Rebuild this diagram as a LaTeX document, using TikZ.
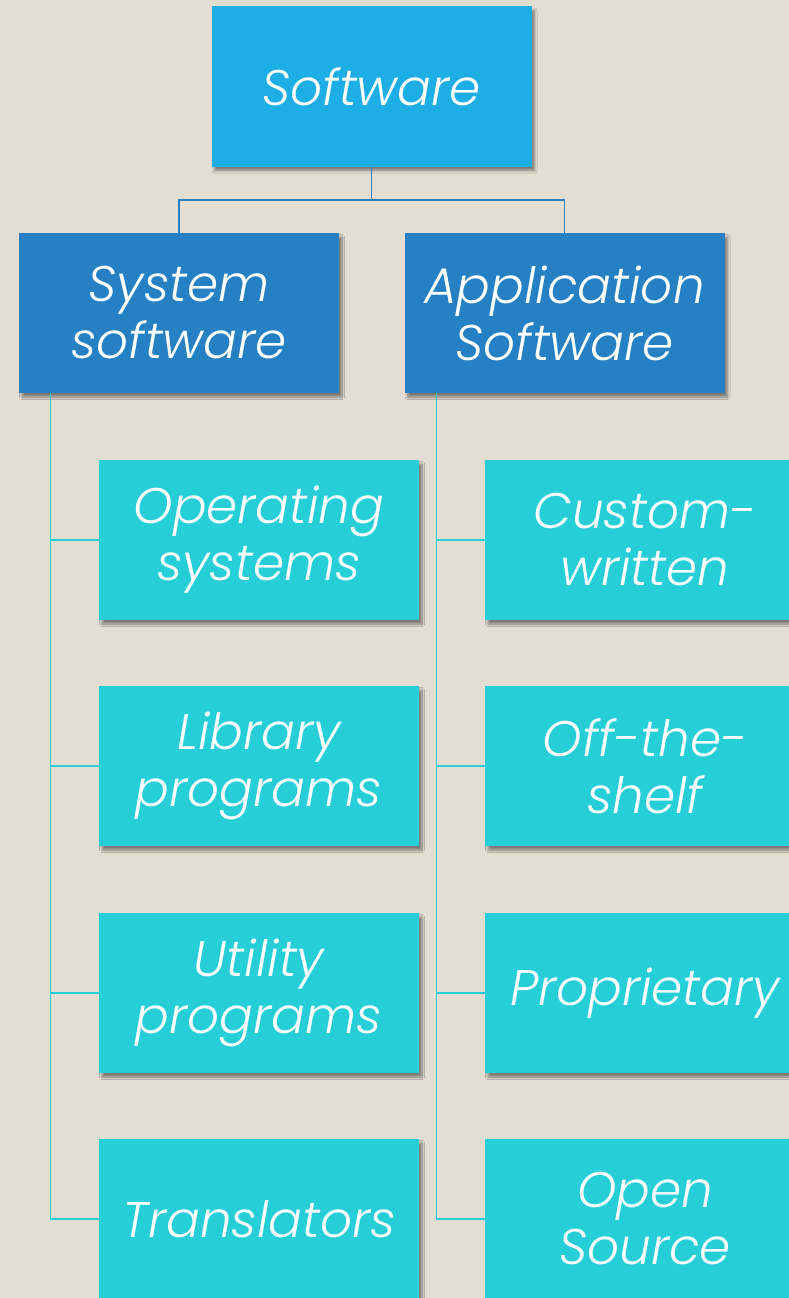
\documentclass[tikz,border=0pt]{standalone}
\usepackage{fontspec}
\setmainfont{Poppins}[UprightFont=* Light, ItalicFont=* Light Italic]
\usetikzlibrary{shadows.blur}

\definecolor{paper}{HTML}{E3DDD2}
\definecolor{topblue}{HTML}{1DAEE5}
\definecolor{midblue}{HTML}{2581C4}
\definecolor{leafcyan}{HTML}{26CFD8}

\tikzset{
  box/.style={rectangle, minimum width=320pt, minimum height=160pt,
    inner sep=0pt, text width=310pt, align=center, text=white,
    font=\fontsize{50}{57}\selectfont\itshape,
    blur shadow={shadow xshift=3pt, shadow yshift=-4pt, shadow blur steps=8,
      shadow blur radius=2.5pt, shadow opacity=45}},
  rootbox/.style={box, fill=topblue},
  groupbox/.style={box, fill=midblue},
  leafbox/.style={box, fill=leafcyan},
  branch/.style={draw=midblue, line width=1.5pt},
  leaf/.style={draw=leafcyan, line width=1.2pt}
}

\begin{document}
\begin{tikzpicture}[x=1pt, y=-1pt]
  \fill[paper] (0,0) rectangle (789,1298);
  \useasboundingbox (0,0) rectangle (789,1298);

  \node[rootbox] (sw) at (371.5,86.5) {Software};
  \node[groupbox] (sys) at (179,313) {System\\software};
  \node[groupbox] (app) at (564.5,313) {Application\\Software};

  % left column
  \node[leafbox] (os)  at (259,540)  {Operating\\systems};
  \node[leafbox] (lib) at (259,766)  {Library\\programs};
  \node[leafbox] (ut)  at (259,993)  {Utility\\programs};
  \node[leafbox] (tr)  at (259,1219) {Translators};

  % right column
  \node[leafbox] (cw)  at (645,540)  {Custom-\\written};
  \node[leafbox] (ots) at (645,766)  {Off-the-\\shelf};
  \node[leafbox] (pr)  at (645,993)  {Proprietary};
  \node[leafbox] (osrc) at (645,1219) {Open\\Source};

  \begin{scope}[on background layer/.try]
    \draw[branch] (sw.south) -- ++(0,33.5) coordinate (fork) -| (sys.north);
    \draw[branch] (fork) -| (app.north);

    \draw[leaf] (sys.south west) ++(32,0) coordinate (sysl) |- (os.west);
    \draw[leaf] (sysl) |- (lib.west);
    \draw[leaf] (sysl) |- (ut.west);
    \draw[leaf] (sysl) |- (tr.west);

    \draw[leaf] (app.south west) ++(32,0) coordinate (appl) |- (cw.west);
    \draw[leaf] (appl) |- (ots.west);
    \draw[leaf] (appl) |- (pr.west);
    \draw[leaf] (appl) |- (osrc.west);
  \end{scope}
\end{tikzpicture}
\end{document}
